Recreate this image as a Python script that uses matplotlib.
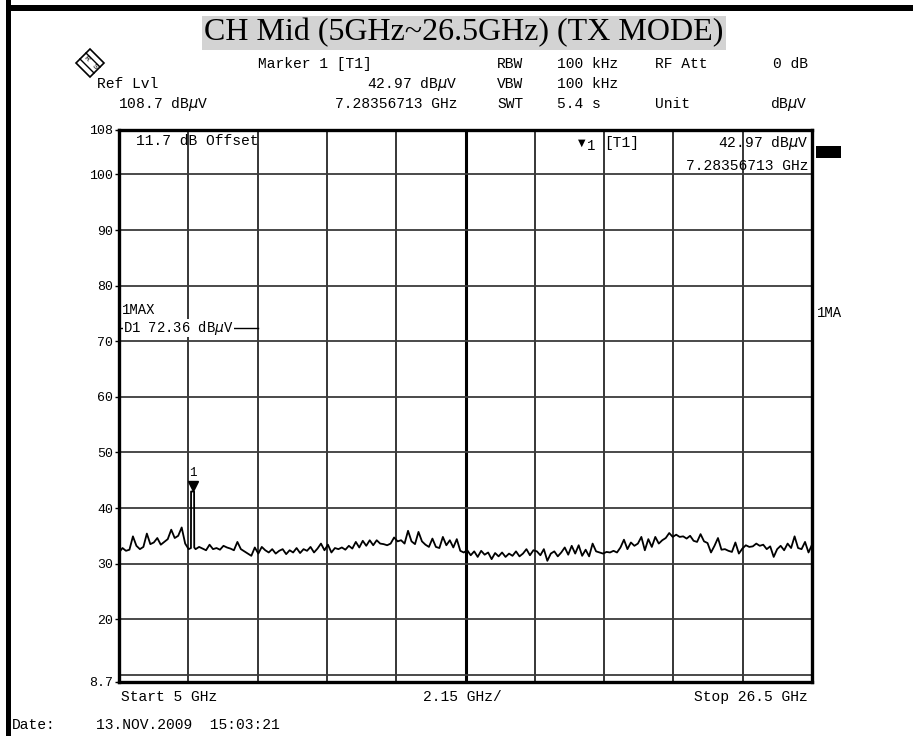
import numpy as np
import matplotlib.pyplot as plt
from matplotlib.patches import Rectangle, Polygon

# sweep settings
f_start = 5.0
f_stop = 26.5
y_bottom = 8.7
y_top = 108.0

# trace values (dBuV), 20 sweep points per division
trace_db = [
    32.0, 32.8, 32.3, 32.5, 34.9, 33.2, 32.6, 33.0, 35.4, 33.5, 33.8, 34.6, 33.4, 33.9, 34.4, 36.1, 34.6, 35.0, 36.5, 33.6,
    32.6, 32.9, 32.6, 33.0, 32.7, 32.4, 33.4, 32.6, 32.8, 32.5, 33.2, 32.9, 32.7, 32.4, 33.9, 32.6, 32.2, 31.8, 31.4, 32.9,
    31.8, 33.0, 32.4, 32.0, 32.6, 31.8, 32.3, 32.6, 31.7, 32.4, 32.0, 32.8, 31.9, 32.6, 32.3, 33.0, 32.0, 32.7, 33.6, 32.4,
    33.4, 32.0, 32.8, 32.6, 32.9, 32.5, 33.2, 32.7, 33.9, 32.9, 34.1, 33.2, 34.2, 33.3, 34.2, 33.6, 33.5, 33.3, 33.6, 34.7,
    34.0, 34.2, 33.6, 35.9, 34.0, 33.5, 35.7, 34.0, 33.4, 33.0, 34.5, 33.0, 32.8, 34.8, 33.3, 34.2, 32.9, 34.4, 32.3, 32.0,
    32.4, 31.5, 32.2, 31.2, 32.3, 31.6, 32.0, 30.8, 31.9, 31.3, 32.0, 31.2, 31.8, 31.4, 32.2, 31.3, 31.8, 32.6, 31.5, 32.4,
    32.2, 31.5, 32.6, 30.5, 31.8, 32.2, 31.3, 32.0, 32.9, 31.6, 33.2, 31.8, 33.3, 31.4, 32.5, 31.3, 33.6, 32.2, 32.0, 31.8,
    32.1, 32.0, 32.3, 32.0, 32.9, 34.3, 32.6, 33.8, 33.2, 33.6, 34.8, 32.4, 34.4, 33.0, 34.8, 33.6, 34.2, 34.6, 35.5, 34.8,
    35.2, 34.8, 34.9, 34.5, 35.0, 34.1, 33.9, 35.3, 34.0, 33.7, 32.0, 33.2, 34.6, 32.5, 32.6, 32.3, 32.1, 33.8, 31.8, 32.7,
    33.3, 33.0, 33.1, 33.6, 33.2, 33.4, 32.6, 33.1, 31.2, 32.6, 33.2, 32.4, 33.6, 32.8, 34.9, 32.8, 32.6, 33.9, 32.0, 33.4,
]

# marker 1 spike
spike_f = [7.232, 7.236, 7.330, 7.334]
spike_db = [32.8, 42.97, 42.97, 32.9]
marker_f = 7.28356713
marker_db = 42.97
d1_level = 72.36

y_ticks = [8.7, 20, 30, 40, 50, 60, 70, 80, 90, 100, 108]
y_grid = [10, 20, 30, 40, 50, 60, 70, 80, 90, 100]

W, H = 913, 736
mono = 'Liberation Mono'


def fx(x):
    return x / W


def fy(y):
    return 1 - y / H


fig = plt.figure(figsize=(W / 100, H / 100), dpi=100)
ax = fig.add_axes([fx(119), fy(682), (812 - 119) / W, (682 - 130) / H])

# merge trace with spike
f = np.linspace(f_start, f_stop, len(trace_db))
db = np.array(trace_db)
keep = (f < spike_f[0]) | (f > spike_f[-1])
f_all = np.concatenate([f[keep], spike_f])
db_all = np.concatenate([db[keep], spike_db])
order = np.argsort(f_all)

# grid
div = (f_stop - f_start) / 10
for i in range(1, 10):
    lw = 2.2 if i == 5 else 1.1
    ax.axvline(f_start + i * div, color='black', lw=lw, zorder=1)
for g in y_grid:
    ax.axhline(g, color='#3a3a3a', lw=1.3, zorder=1)

ax.plot(f_all[order], db_all[order], color='black', lw=1.3, zorder=3)

# marker
ax.plot([marker_f], [marker_db + 1.0], marker='v', color='black', markersize=7, zorder=4)
ax.text(marker_f, marker_db + 2.3, '1', fontsize=9, family=mono, ha='center', va='bottom')

# display line D1
ax.plot([f_start, f_start + 0.15], [d1_level, d1_level], color='black', lw=1.0, zorder=3)
ax.plot([f_start + 2.0, f_start + 2 * div], [d1_level, d1_level], color='black', lw=1.0, zorder=3)
ax.text(f_start + 0.12, d1_level, 'D1 72.36 dB$\\mu$V', fontsize=10, family=mono, va='center', ha='left',
        bbox=dict(facecolor='white', edgecolor='none', pad=0))
ax.text(f_start + 0.1, d1_level + 3.2, '1MAX', fontsize=10, family=mono, va='center', ha='left')

ax.set_xlim(f_start, f_stop)
ax.set_ylim(y_bottom, y_top)
ax.set_xticks([])
ax.set_yticks(y_ticks)
ax.set_yticklabels(['8.7', '20', '30', '40', '50', '60', '70', '80', '90', '100', '108'],
                   fontsize=9.5, family=mono)
ax.tick_params(axis='y', length=3, width=1, pad=1)
for s in ax.spines.values():
    s.set_linewidth(2.4)

# in-plot annotations
fig.text(fx(136), fy(141), '11.7 dB Offset', fontsize=10.5, family=mono, va='center')
fig.text(fx(578), fy(143), '\u25BC', fontsize=7, family='DejaVu Sans', va='center')
fig.text(fx(587), fy(146), '1', fontsize=10, family=mono, va='center')
fig.text(fx(604), fy(143), '[T1]', fontsize=10.5, family=mono, va='center')
fig.text(fx(808), fy(143), '42.97 dB$\\mu$V', fontsize=10.5, family=mono, va='center', ha='right')
fig.text(fx(808), fy(166), '7.28356713 GHz', fontsize=10.5, family=mono, va='center', ha='right')
fig.patches.append(Rectangle((fx(816), fy(158)), 25 / W, 12 / H, transform=fig.transFigure,
                             facecolor='black', edgecolor='none'))
fig.text(fx(817), fy(313), '1MA', fontsize=10, family=mono, va='center')

# title
fig.text(fx(464), fy(33), 'CH Mid (5GHz~26.5GHz) (TX MODE)', fontsize=23, family='Liberation Serif',
         ha='center', va='center', bbox=dict(facecolor='#d3d3d3', edgecolor='none', pad=1.5))

# header rows
hdr = dict(fontsize=10.5, family=mono, va='center')
fig.text(fx(258), fy(64), 'Marker 1 [T1]', **hdr)
fig.text(fx(497), fy(64), 'RBW', **hdr)
fig.text(fx(557), fy(64), '100 kHz', **hdr)
fig.text(fx(655), fy(64), 'RF Att', **hdr)
fig.text(fx(808), fy(64), '0 dB', ha='right', **hdr)
fig.text(fx(97), fy(84), 'Ref Lvl', **hdr)
fig.text(fx(457), fy(84), '42.97 dB$\\mu$V', ha='right', **hdr)
fig.text(fx(497), fy(84), 'VBW', **hdr)
fig.text(fx(557), fy(84), '100 kHz', **hdr)
fig.text(fx(118), fy(104), '108.7 dB$\\mu$V', **hdr)
fig.text(fx(457), fy(104), '7.28356713 GHz', ha='right', **hdr)
fig.text(fx(497), fy(104), 'SWT', **hdr)
fig.text(fx(557), fy(104), '5.4 s', **hdr)
fig.text(fx(655), fy(104), 'Unit', **hdr)
fig.text(fx(808), fy(104), 'dB$\\mu$V', ha='right', **hdr)

# R&S logo
cx, cy, r = 90, 63, 14
fig.patches.append(Polygon([(fx(cx), fy(cy - r)), (fx(cx + r), fy(cy)), (fx(cx), fy(cy + r)), (fx(cx - r), fy(cy))],
                           closed=True, transform=fig.transFigure, facecolor='white', edgecolor='black', lw=1.2))
for off in (-3, 3):
    fig.lines.append(plt.Line2D([fx(cx - r / 2 + off), fx(cx + r / 2 + off)], [fy(cy - r / 2 - off), fy(cy + r / 2 - off)],
                                transform=fig.transFigure, color='black', lw=1.0))
fig.text(fx(cx - 4), fy(cy - 4), 'R', fontsize=6, family=mono, ha='center', va='center', rotation=-45)
fig.text(fx(cx + 4), fy(cy + 4), 'S', fontsize=6, family=mono, ha='center', va='center', rotation=-45)

# footer
fig.text(fx(121), fy(697), 'Start 5 GHz', **hdr)
fig.text(fx(423), fy(697), '2.15 GHz/', **hdr)
fig.text(fx(808), fy(697), 'Stop 26.5 GHz', ha='right', **hdr)
fig.text(fx(12), fy(725), 'Date:', **hdr)
fig.text(fx(96), fy(725), '13.NOV.2009  15:03:21', **hdr)

# page border
fig.patches.append(Rectangle((fx(6), fy(11)), (W - 6) / W, 6 / H, transform=fig.transFigure,
                             facecolor='black', edgecolor='none'))
fig.patches.append(Rectangle((fx(6), 0), 5 / W, 1, transform=fig.transFigure,
                             facecolor='black', edgecolor='none'))

fig.savefig('out.png', dpi=100)
